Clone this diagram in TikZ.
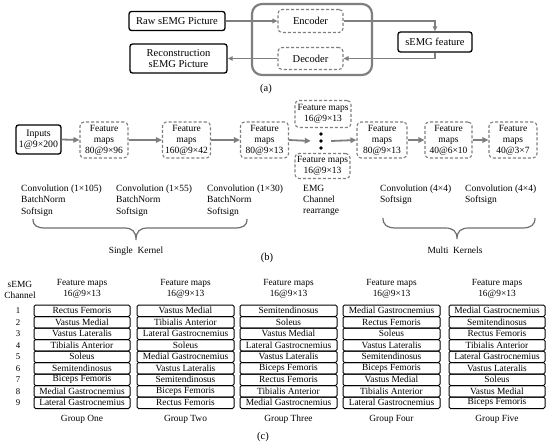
\documentclass[tikz,border=0pt]{standalone}
\usepackage{fontspec}
\setmainfont{Liberation Serif}
\usetikzlibrary{arrows.meta}
\definecolor{lgray}{HTML}{7F7F7F}
\definecolor{bgray}{HTML}{6E6E6E}
\begin{document}
\begin{tikzpicture}[x=1pt,y=-1pt,
  solidbox/.style={draw=black,line width=1.3pt,rounded corners=2.5pt,inner sep=0pt,align=center,font=\fontsize{10.5}{11.5}\selectfont},
  dashbox/.style={draw=lgray,line width=1.1pt,dash pattern=on 3pt off 2pt,rounded corners=4pt,inner sep=0pt,align=center,font=\fontsize{9.5}{10.8}\selectfont},
  fmbox/.style={dashbox,minimum width=48pt,minimum height=36pt},
  arr/.style={draw=lgray,line width=1.2pt,-{Triangle[length=5pt,width=4.5pt]}},
  barr/.style={draw=lgray,line width=1.8pt,-{Triangle[length=6pt,width=5.5pt]}},
  lbl/.style={inner sep=0pt,align=left,anchor=north west,font=\fontsize{9.5}{11.2}\selectfont},
  plain/.style={inner sep=0pt,align=center,font=\fontsize{9.4}{11}\selectfont},
  rowbox/.style={draw=black,line width=1pt,rounded corners=1.5pt,inner sep=0pt,minimum height=11.5pt,font=\fontsize{9.4}{9.5}\selectfont},
  bracepath/.style={draw=bgray,line width=1.2pt}
]
\useasboundingbox (0,0) rectangle (550,448);
% ---------- (a) ----------
\node[draw=lgray,line width=2.2pt,rounded corners=10pt,minimum width=120pt,minimum height=71pt] (ae) at (312,39.5) {};
\node[solidbox,minimum width=96pt,minimum height=19pt] (raw) at (177,21) {Raw sEMG Picture};
\node[solidbox,minimum width=97pt,minimum height=29pt] (rec) at (178.5,58.5) {Reconstruction\\sEMG Picture};
\node[dashbox,font=\fontsize{10.5}{11.5}\selectfont,minimum width=65pt,minimum height=23pt] (enc) at (310.5,21) {Encoder};
\node[dashbox,font=\fontsize{10.5}{11.5}\selectfont,minimum width=65pt,minimum height=22pt] (dec) at (310.5,58.5) {Decoder};
\node[solidbox,minimum width=74pt,minimum height=20pt] (feat) at (435,42) {sEMG feature};
\draw[arr] (raw.east) -- (enc.west);
\draw[arr] (enc.east) -| (feat.north);
\draw[arr] (feat.south) |- (dec.east);
\draw[arr] (dec.west) -- (rec.east);
\node[plain,font=\fontsize{10.5}{11}\selectfont] (la) at (266,89) {(a)};
% ---------- (b) ----------
\node[solidbox,font=\fontsize{9.8}{11}\selectfont,minimum width=45pt,minimum height=29pt] (inp) at (38.5,139.5) {Inputs\\1@9×200};
\node[fmbox] (f1) at (104,140) {Feature\\maps\\80@9×96};
\node[fmbox] (f2) at (186.5,140) {Feature\\maps\\160@9×42};
\node[fmbox] (f3) at (264.5,140) {Feature\\maps\\80@9×13};
\node[dashbox,minimum width=56pt,minimum height=27pt] (ft) at (323,114) {Feature maps\\16@9×13};
\node[dashbox,minimum width=55pt,minimum height=25pt] (fb) at (322.5,166) {Feature maps\\16@9×13};
\node[minimum width=20pt,minimum height=18pt,inner sep=0pt] (dots) at (321,141) {};
\fill (321,134) circle (1.8pt) (321,141) circle (1.8pt) (321,148) circle (1.8pt);
\node[fmbox,minimum width=50pt] (f4) at (382,140) {Feature\\maps\\80@9×13};
\node[fmbox,minimum width=47pt] (f5) at (448.5,140) {Feature\\maps\\40@6×10};
\node[fmbox,minimum width=48pt] (f6) at (513,140) {Feature\\maps\\40@3×7};
\draw[barr] (inp.east) -- (f1.west);
\draw[barr] (f1.east) -- (f2.west);
\draw[barr] (f2.east) -- (f3.west);
\draw[barr] (f3.east) -- (dots.west);
\draw[barr] (dots.east) -- (f4.west);
\draw[barr] (f4.east) -- (f5.west);
\draw[barr] (f5.east) -- (f6.west);
\node[lbl] (c1) at (21,185) {Convolution (1×105)\\BatchNorm\\Softsign};
\node[lbl] (c2) at (116,185) {Convolution (1×55)\\BatchNorm\\Softsign};
\node[lbl] (c3) at (207,185) {Convolution (1×30)\\BatchNorm\\Softsign};
\node[lbl] (c4) at (303,185) {EMG\\Channel\\rearrange};
\node[lbl] (c5) at (380,185) {Convolution (4×4)\\Softsign};
\node[lbl] (c6) at (465,185) {Convolution (4×4)\\Softsign};
\draw[bracepath] (33,219) .. controls (33,226) and (37,228) .. (46,228) -- (124,228) .. controls (132,228) and (136,231) .. (136,240) .. controls (136,231) and (140,228) .. (148,228) -- (234,228) .. controls (243,228) and (247,226) .. (247,219);
\draw[bracepath] (383,218) .. controls (383,225) and (387,228) .. (396,228) -- (445,228) .. controls (453,228) and (457,231) .. (457,239) .. controls (457,231) and (461,228) .. (469,228) -- (522,228) .. controls (531,228) and (535,225) .. (535,218);
\node[plain] (sk) at (136,251) {Single\ \ Kernel};
\node[plain] (mk) at (455,250) {Multi\ \ Kernels};
\node[plain,font=\fontsize{10.5}{11}\selectfont] (lb) at (267,258) {(b)};
% ---------- (c) ----------
\node[plain] (ch) at (20,289.5) {sEMG\\Channel};
\foreach \i in {1,...,9} {
  \node[plain,font=\fontsize{8.8}{9}\selectfont] (n\i) at (18,{305+11.5*(\i-0.5)}) {\i};
}
\foreach \g/\cx/\w/\name/\lst in {
 1/82/96/One/{Rectus Femoris,Vastus Medial,Vastus Lateralis,Tibialis Anterior,Soleus,Semitendinosus,Biceps Femoris,Medial Gastrocnemius,Lateral Gastrocnemius},
 2/185.5/97/Two/{Vastus Medial,Tibialis Anterior,Lateral Gastrocnemius,Soleus,Medial Gastrocnemius,Vastus Lateralis,Semitendinosus,Biceps Femoris,Rectus Femoris},
 3/288.5/97/Three/{Semitendinosus,Soleus,Vastus Medial,Lateral Gastrocnemius,Vastus Lateralis,Biceps Femoris,Rectus Femoris,Tibialis Anterior,Medial Gastrocnemius},
 4/391.5/97/Four/{Medial Gastrocnemius,Rectus Femoris,Soleus,Vastus Lateralis,Semitendinosus,Biceps Femoris,Vastus Medial,Tibialis Anterior,Lateral Gastrocnemius},
 5/497/96/Five/{Medial Gastrocnemius,Semitendinosus,Rectus Femoris,Tibialis Anterior,Lateral Gastrocnemius,Vastus Lateralis,Soleus,Vastus Medial,Biceps Femoris}} {
  \node[plain] (h\g) at (\cx,289) {Feature maps\\16@9×13};
  \foreach \m [count=\r] in \lst {
    \node[rowbox,minimum width=\w pt] (g\g r\r) at (\cx,{305+11.5*(\r-0.5)}) {\m};
  }
  \node[plain] (gl\g) at (\cx,419) {Group \name};
}
\node[plain,font=\fontsize{10.5}{11}\selectfont] (lc) at (263,437) {(c)};
\end{tikzpicture}
\end{document}
